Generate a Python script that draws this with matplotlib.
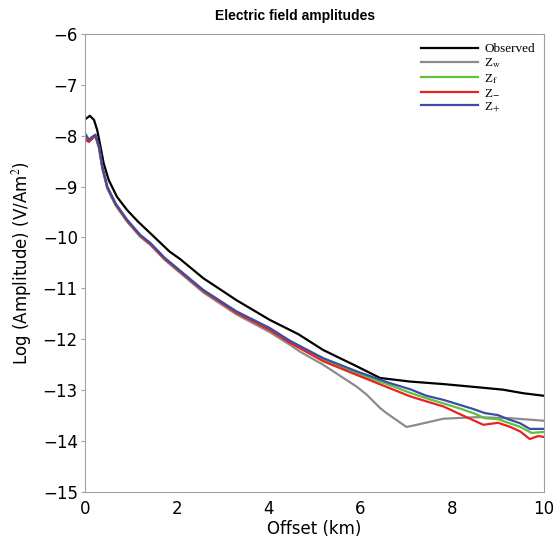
import numpy as np
import matplotlib.pyplot as plt

# Observed field
obs_x = [0, 0.05, 0.11, 0.2, 0.27, 0.34, 0.41, 0.52, 0.7, 0.92, 1.15, 1.5, 1.85, 2.07, 2.58,
         3.3, 4.03, 4.65, 5.19, 5.92, 6.43, 7.08, 7.81, 8.53, 9.11, 9.55, 10.0]
obs_y = [-7.68, -7.65, -7.61, -7.69, -7.89, -8.21, -8.54, -8.87, -9.2, -9.46, -9.68, -9.98,
         -10.28, -10.42, -10.8, -11.23, -11.62, -11.9, -12.21, -12.53, -12.76, -12.83, -12.88,
         -12.94, -12.99, -13.06, -13.11]

# Z_w
zw_x = [0, 0.05, 0.09, 0.15, 0.23, 0.31, 0.38, 0.49, 0.67, 0.92, 1.21, 1.43, 1.74, 2.58, 3.3,
        4.03, 4.47, 4.68, 5.19, 5.41, 5.92, 6.14, 6.43, 6.57, 7.0, 7.08, 7.81, 8.53, 9.26, 10.0]
zw_y = [-8.05, -8.1, -8.12, -8.06, -8.01, -8.25, -8.64, -9.04, -9.37, -9.69, -9.99, -10.15,
        -10.44, -11.08, -11.51, -11.86, -12.11, -12.24, -12.5, -12.63, -12.93, -13.09, -13.35,
        -13.45, -13.72, -13.71, -13.56, -13.53, -13.55, -13.6]

# Z_f
zf_x = [0, 0.05, 0.09, 0.15, 0.23, 0.31, 0.38, 0.49, 0.67, 0.92, 1.21, 1.43, 1.74, 2.58, 3.3,
        4.03, 4.47, 5.19, 5.92, 6.64, 7.08, 7.44, 7.81, 8.17, 8.46, 8.71, 9.0, 9.22, 9.48,
        9.73, 10.0]
zf_y = [-7.97, -8.04, -8.09, -8.04, -7.99, -8.23, -8.62, -9.02, -9.35, -9.67, -9.97, -10.13,
        -10.42, -11.05, -11.47, -11.8, -12.06, -12.4, -12.67, -12.9, -13.05, -13.16, -13.26,
        -13.36, -13.45, -13.55, -13.57, -13.64, -13.72, -13.84, -13.82]

# Z_-
zm_x = [0, 0.05, 0.09, 0.15, 0.23, 0.31, 0.38, 0.49, 0.67, 0.92, 1.21, 1.43, 1.74, 2.58, 3.3,
        4.03, 4.47, 5.19, 5.92, 6.64, 7.08, 7.44, 7.81, 8.31, 8.68, 9.0, 9.26, 9.48, 9.69,
        9.87, 10.0]
zm_y = [-8.03, -8.1, -8.12, -8.07, -8.0, -8.23, -8.62, -9.02, -9.35, -9.67, -9.97, -10.13,
        -10.42, -11.05, -11.48, -11.82, -12.07, -12.43, -12.7, -12.96, -13.12, -13.22, -13.32,
        -13.53, -13.68, -13.64, -13.72, -13.81, -13.96, -13.9, -13.92]

# Z_+
zp_x = [0, 0.05, 0.09, 0.15, 0.23, 0.31, 0.38, 0.49, 0.67, 0.92, 1.21, 1.43, 1.74, 2.58, 3.3,
        4.03, 4.47, 5.19, 5.92, 6.64, 7.08, 7.44, 7.81, 8.17, 8.46, 8.71, 9.0, 9.22, 9.48,
        9.69, 10.0]
zp_y = [-7.95, -8.02, -8.08, -8.03, -7.98, -8.21, -8.6, -9.0, -9.33, -9.65, -9.95, -10.11,
        -10.4, -11.03, -11.45, -11.78, -12.03, -12.37, -12.63, -12.86, -12.98, -13.11, -13.19,
        -13.29, -13.37, -13.45, -13.49, -13.57, -13.65, -13.76, -13.76]

plt.rcParams["mathtext.fontset"] = "stix"

fig = plt.figure(figsize=(5.58, 5.38), dpi=100)
ax = fig.add_axes([0.152, 0.0855, 0.823, 0.8515])

lw = 1.6
ax.plot(obs_x, obs_y, color="black", lw=lw, label="Observed")
ax.plot(zw_x, zw_y, color="#8c8c8c", lw=lw, label=r"Z$_\mathrm{w}$")
ax.plot(zf_x, zf_y, color="#5cc23a", lw=lw, label=r"Z$_\mathrm{f}$")
ax.plot(zm_x, zm_y, color="#e8231f", lw=lw, label=r"Z$_{-}$")
ax.plot(zp_x, zp_y, color="#3a4ea6", lw=lw, label=r"Z$_{+}$")

ax.set_xlim(0, 10)
ax.set_ylim(-15, -6)
ax.set_xticks([0, 2, 4, 6, 8, 10])
ax.set_yticks(np.arange(-15, -5, 1))

for s in ax.spines.values():
    s.set_color("#a0a0a0")
    s.set_linewidth(0.8)
ax.tick_params(axis="y", length=3, color="#a0a0a0", labelsize=12, pad=2)
ax.tick_params(axis="x", length=0, labelsize=12, pad=6)

ax.set_xlabel("Offset (km)", fontsize=12, labelpad=1)
ax.set_ylabel(r"Log (Amplitude) (V/Am$^2$)", fontsize=12, labelpad=6)

leg = ax.legend(loc="upper right", frameon=False, handlelength=4.3, handletextpad=0.5,
                labelspacing=0.1, borderaxespad=0.3,
                prop={"family": "Liberation Serif", "size": 9.5})

fig.text(0.529, 0.971, "Electric field amplitudes", ha="center", va="center",
         fontsize=10, fontweight="bold", family="Liberation Sans")

plt.savefig("out.png", dpi=100)
